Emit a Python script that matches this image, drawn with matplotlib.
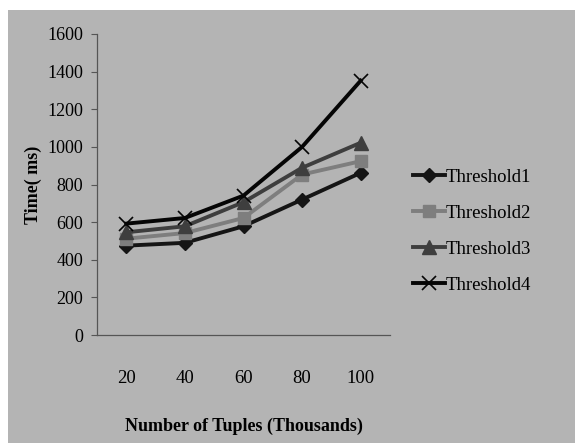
import matplotlib
matplotlib.use('Agg')
import matplotlib.pyplot as plt
from matplotlib.patches import Rectangle
import numpy as np

plt.rcParams['font.family'] = ['Liberation Serif', 'DejaVu Serif']

# 数据
tuples = ['20', '40', '60', '80', '100']
threshold1 = [475, 490, 578, 720, 862]
threshold2 = [512, 542, 622, 853, 924]
threshold3 = [546, 578, 706, 889, 1022]
threshold4 = [592, 622, 741, 1000, 1352]

bg = '#b4b4b4'

fig = plt.figure(figsize=(5.75, 4.43), dpi=100)
fig.patches.append(Rectangle((8 / 575, 0), 1, 1 - 10 / 443, transform=fig.transFigure,
                             facecolor=bg, edgecolor='none', zorder=-10))

ax = fig.add_axes([97 / 575, 1 - 335 / 443, 293 / 575, 301 / 443])
ax.set_facecolor(bg)

x = np.arange(len(tuples)) + 0.5
ax.plot(x, threshold1, color='#151515', lw=2.8, marker='D', ms=7, label='Threshold1')
ax.plot(x, threshold2, color='#7e7e7e', lw=2.8, marker='s', ms=8, label='Threshold2')
ax.plot(x, threshold3, color='#3e3e3e', lw=2.8, marker='^', ms=9.5, label='Threshold3')
ax.plot(x, threshold4, color='#050505', lw=2.8, marker='x', ms=10, mew=1.2, label='Threshold4')

ax.set_xlim(0, len(tuples))
ax.set_ylim(0, 1600)
ax.set_yticks(range(0, 1601, 200))
ax.set_xticks(x)
ax.set_xticklabels(tuples)
ax.tick_params(axis='x', length=0, pad=25, labelsize=13.5)
ax.tick_params(axis='y', length=4, width=0.8, color='#555555', pad=6, labelsize=13)
for s in ['top', 'right']:
    ax.spines[s].set_visible(False)
for s in ['left', 'bottom']:
    ax.spines[s].set_color('#555555')
    ax.spines[s].set_linewidth(0.9)

ax.set_xlabel('Number of Tuples (Thousands)', fontsize=13, fontweight='bold', labelpad=22)
ax.set_ylabel('Time( ms)', fontsize=13, fontweight='bold')
ax.yaxis.set_label_coords(-0.188, 0.5)

leg = ax.legend(loc='center left', bbox_to_anchor=(1.02, 0.345), frameon=False,
                fontsize=13.5, handlelength=1.7, handletextpad=0.05, labelspacing=1.0)

fig.savefig('out.png', dpi=100)
